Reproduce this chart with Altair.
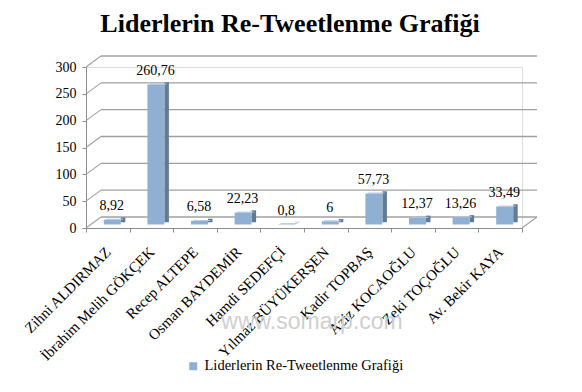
import altair as alt
import pandas as pd

categories = ["Zihni ALDIRMAZ", "İbrahim Melih GÖKÇEK", "Recep ALTEPE", "Osman BAYDEMİR",
              "Hamdi SEDEFÇİ", "Yılmaz BÜYÜKERŞEN", "Kadir TOPBAŞ", "Aziz KOCAOĞLU",
              "Zeki TOÇOĞLU", "Av. Bekir KAYA"]
values = [8.92, 260.76, 6.58, 22.23, 0.8, 6, 57.73, 12.37, 13.26, 33.49]
value_labels = ["8,92", "260,76", "6,58", "22,23", "0,8", "6", "57,73", "12,37", "13,26", "33,49"]
y_ticks = [0, 50, 100, 150, 200, 250, 300]
series_name = "Liderlerin Re-Tweetlenme Grafiği"
title_text = "Liderlerin Re-Tweetlenme Grafiği"
watermark_text = "www.somarp.com"

W, H = 436, 161
YMAX = 300
DX, DY = 15, 11          # depth of the back wall in px
BD = 4.5                 # depth of each bar in px
BW = 17                  # bar front width in px
BX, BY = 4.5, -3.5       # bar front offset in px
unit = YMAX / H          # data units per px

FONT = "Liberation Serif"
FRONT = "#8fb0d3"
SIDE = "#627b95"
TOP = "#b3cae3"
GRID = "#a0a0a0"

bars = pd.DataFrame({
    "category": categories,
    "value": values,
    "label": value_labels,
    "series": [series_name] * len(categories),
})
bars["topface"] = bars["value"] + BD * unit

grid = pd.DataFrame({"val": y_ticks})
grid["val2"] = grid["val"] + DY * unit
floor = pd.DataFrame({"val": [0], "val2": [DY * unit]})

x_scale = alt.Scale(domain=categories, paddingInner=0, paddingOuter=0)
y_scale = alt.Scale(domain=[0, YMAX], nice=False, zero=True)

x_axis = alt.Axis(title=None, labelAngle=-45, labelAlign="right", labelBaseline="middle",
                  labelPadding=17, labelFont=FONT, labelFontSize=15, labelColor="black",
                  tickBand="extent", tickSize=4, tickColor="#8c8c8c", domainColor="#8c8c8c",
                  labelLimit=300, labelOverlap=False)
y_axis = alt.Axis(title=None, values=y_ticks, labelFont=FONT, labelFontSize=14,
                  labelColor="black", tickSize=4, tickColor="#8c8c8c",
                  domainColor="#8c8c8c", grid=False, labelPadding=6)

X = alt.X("category:N", scale=x_scale, axis=x_axis, sort=categories)
Y = alt.Y("value:Q", scale=y_scale, axis=y_axis)

base = alt.Chart(bars)

watermark = alt.Chart(pd.DataFrame({"t": [watermark_text]})).mark_text(
    font="Liberation Sans", fontSize=23, color="#cfcfcf", align="center", baseline="middle"
).encode(x=alt.value(226), y=alt.value(255), text="t:N")

back_grid = alt.Chart(grid).mark_rule(color=GRID, strokeWidth=1.4, yOffset=-DY).encode(
    x=alt.value(DX), x2=alt.value(W + DX),
    y=alt.Y("val:Q", scale=y_scale, axis=y_axis),
)
left_wall = alt.Chart(grid).mark_rule(color=GRID, strokeWidth=1.1).encode(
    x=alt.value(0), x2=alt.value(DX),
    y=alt.Y("val:Q", scale=y_scale, axis=y_axis), y2="val2:Q",
)
floor_right = alt.Chart(floor).mark_rule(color=GRID, strokeWidth=1.1).encode(
    x=alt.value(W), x2=alt.value(W + DX),
    y=alt.Y("val:Q", scale=y_scale, axis=y_axis), y2="val2:Q",
)

side = base.mark_bar(size=BD, color=SIDE, xOffset=BX + BW / 2 + BD / 2,
                     yOffset=BY - BD / 2).encode(x=X, y=Y)
top = base.mark_bar(size=BW, color=TOP, xOffset=BX + BD / 2, yOffset=BY).encode(
    x=X, y=Y, y2="topface:Q",
)
front = base.mark_bar(size=BW, xOffset=BX, yOffset=BY).encode(
    x=X, y=Y,
    color=alt.Color("series:N", scale=alt.Scale(range=[FRONT]),
                    legend=alt.Legend(orient="none", legendX=100, legendY=292, title=None,
                                      symbolType="square", symbolSize=64,
                                      symbolStrokeWidth=0, labelFont=FONT,
                                      labelFontSize=14.5, labelColor="black",
                                      labelLimit=400)),
)
text = base.mark_text(font=FONT, fontSize=14, color="black", baseline="alphabetic",
                      align="center", dx=4, dy=-13).encode(
    x=X, y=Y, text="label:N",
)

chart = alt.layer(watermark, back_grid, left_wall, floor_right, side, top, front, text).properties(
    width=W, height=H,
    title=alt.Title(title_text, font=FONT, fontSize=26, fontWeight="bold", color="black",
                    anchor="middle", dx=-14, offset=18),
    autosize=alt.AutoSizeParams(type="none"),
    padding={"left": 78, "top": 59, "right": 52, "bottom": 156},
).configure_view(stroke=None).configure(background="white")

chart.save("out.html", embed_options={"renderer": "svg", "actions": False})
